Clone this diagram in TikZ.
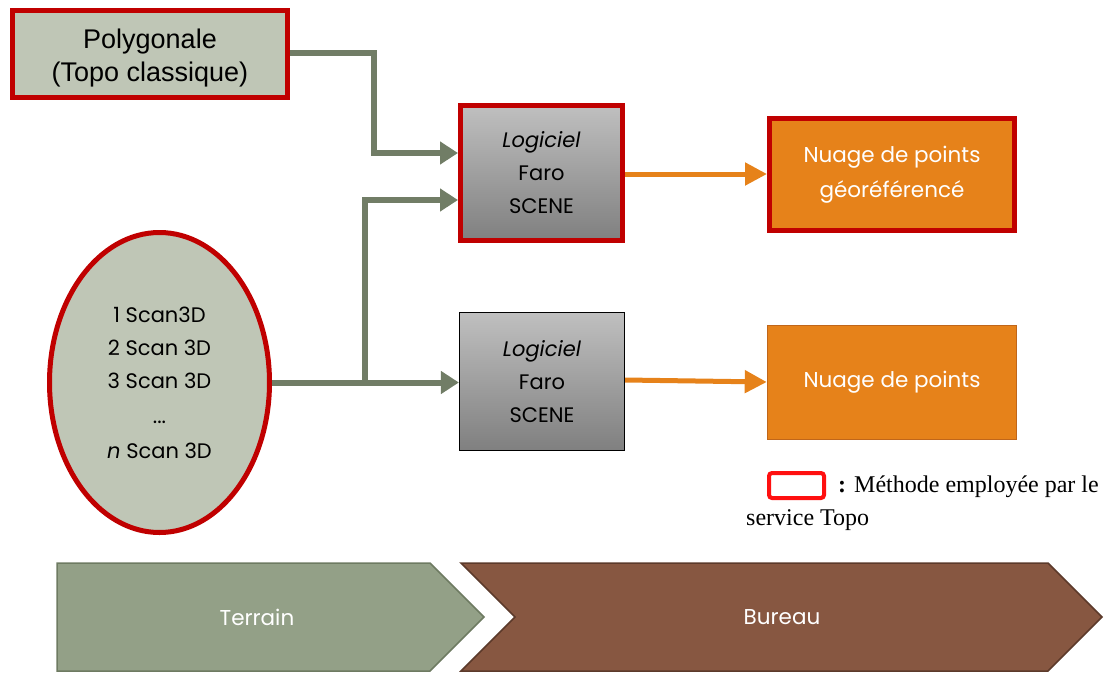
\documentclass[tikz,border=0pt]{standalone}
\usepackage{fontspec}
\setmainfont{Poppins}
\newfontfamily\arialf{Liberation Sans}
\newfontfamily\timesf{Liberation Serif}
\usetikzlibrary{shapes.geometric,arrows.meta}
\definecolor{redb}{HTML}{C00000}
\definecolor{legred}{HTML}{FF1010}
\definecolor{sage}{HTML}{BFC6B6}
\definecolor{arrgreen}{HTML}{717D66}
\definecolor{orng}{HTML}{E6821A}
\definecolor{orngdk}{HTML}{C0661A}
\definecolor{terrf}{HTML}{93A087}
\definecolor{terrd}{HTML}{6E7B62}
\definecolor{burf}{HTML}{875741}
\definecolor{burd}{HTML}{5C3A2B}
\tikzset{
  redbox/.style={draw=redb,line width=5pt},
  farobox/.style={top color=black!25,bottom color=black!50,minimum width=162pt,minimum height=135pt,inner sep=0pt,
    font=\fontsize{21}{33}\selectfont,align=center},
  nuagebox/.style={fill=orng,text=white,inner sep=0pt,font=\fontsize{21.5}{35}\selectfont,align=center},
  garrow/.style={draw=arrgreen,line width=6pt,-{Triangle[length=18pt,width=22pt]}},
  oarrow/.style={draw=orng,line width=5pt,-{Triangle[length=22pt,width=22pt]}},
  chevtext/.style={text=white,font=\fontsize{21.5}{24}\selectfont},
  legtext/.style={anchor=west,inner sep=0pt,font=\timesf\fontsize{24}{28}\selectfont}
}
\begin{document}
\begin{tikzpicture}[x=1pt,y=-1pt]
\useasboundingbox (0,0) rectangle (1104,673);
% top-left box
\node[redbox,fill=sage,minimum width=275pt,minimum height=87pt,inner sep=0pt] (poly) at (150,54) {};
\node[align=center,inner sep=0pt,font=\arialf\fontsize{27}{33}\selectfont] (polyt) at (150,58) {Polygonale\\(Topo classique)};
% ellipse
\node[ellipse,redbox,fill=sage,minimum width=220pt,minimum height=300pt,inner sep=0pt,align=center,
  font=\fontsize{21}{33}\selectfont] (scans) at (159.5,382.5)
  {1 Scan3D\\2 Scan 3D\\3 Scan 3D\\[2pt]...\\[2pt]\textit{n} Scan 3D};
% Faro boxes
\node[farobox,redbox] (faro1) at (541.5,173) {\textit{Logiciel}\\Faro\\SCENE};
\node[farobox,draw=black,line width=1.2pt,minimum width=165pt,minimum height=138pt] (faro2) at (542,381.5) {\textit{Logiciel}\\Faro\\SCENE};
% Nuage boxes
\node[nuagebox,redbox,minimum width=245pt,minimum height=112pt] (nuage1) at (892,174.5) {Nuage de points\\géoréférencé};
\node[nuagebox,draw=orngdk,line width=1.5pt,minimum width=249pt,minimum height=114pt] (nuage2) at (892,382.5) {Nuage de points};
% connectors
\coordinate (branch) at (365,382);
\draw[garrow] (poly.east |- 0,53) -- (374,53) -- (374,153) -- (faro1.west |- 0,153);
\draw[garrow] (scans.east) -- (faro2.west |- scans.east);
\draw[garrow] (branch) -- (365,200) -- (faro1.west |- 0,200);
\draw[oarrow] (faro1.east |- 0,174) -- (nuage1.west |- 0,174);
\draw[oarrow] (faro2.east |- 0,380) -- (nuage2.west |- 0,382);
% legend
\node[draw=legred,line width=4pt,rounded corners=3pt,minimum width=55pt,minimum height=25pt,inner sep=0pt] (leg) at (796.5,485.5) {};
\node[legtext] (legt1) at (838,487) {\textbf{:} Méthode employée par le};
\node[legtext] (legt2) at (746,520) {service Topo};
% chevrons
\draw[fill=terrf,draw=terrd,line width=1.5pt] (57,563) -- (430,563) -- (484,617) -- (430,671) -- (57,671) -- cycle;
\draw[fill=burf,draw=burd,line width=1.5pt] (461,563) -- (1048,563) -- (1102,617) -- (1048,671) -- (461,671) -- (515,617) -- cycle;
\node[chevtext] (terrain) at (257,617) {Terrain};
\node[chevtext] (bureau) at (782,617) {Bureau};
\end{tikzpicture}
\end{document}
